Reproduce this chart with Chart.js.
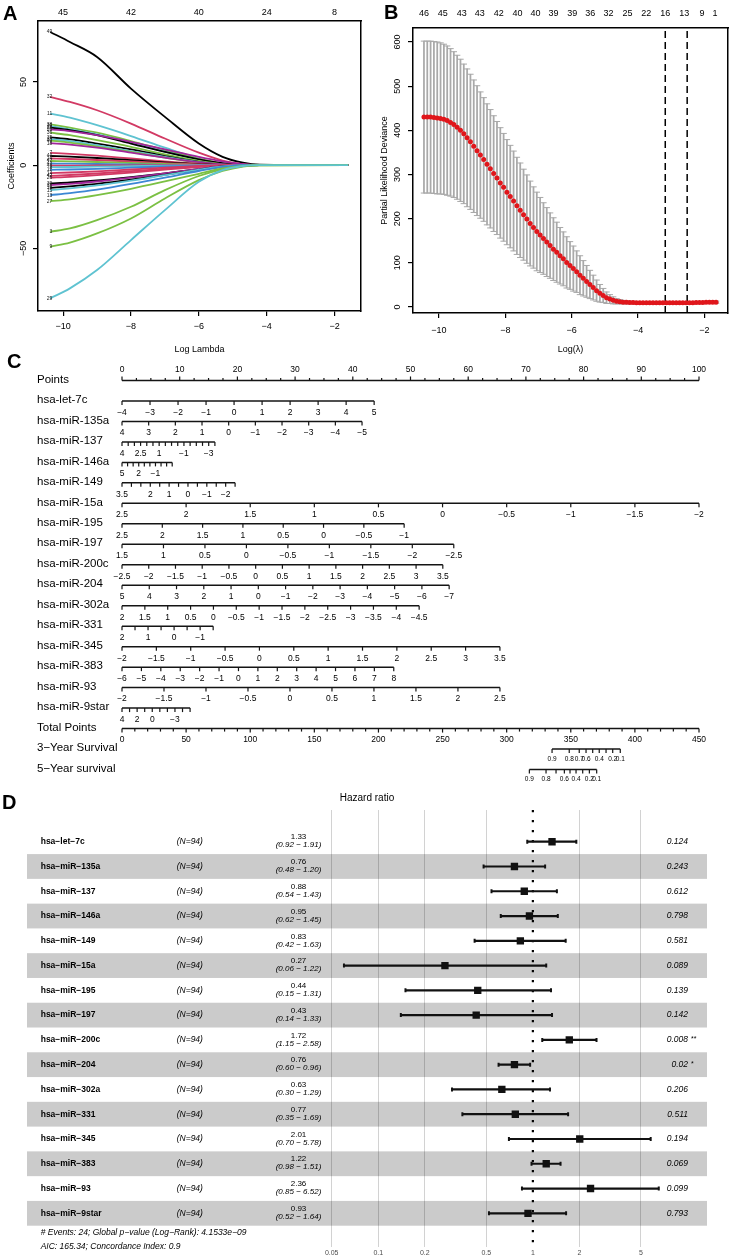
<!DOCTYPE html>
<html><head><meta charset="utf-8">
<script src="https://cdn.jsdelivr.net/npm/chart.js@4.4.1/dist/chart.umd.min.js"></script>
<style>
html,body{margin:0;padding:0;background:#fff;}
#wrap{position:relative;width:733px;height:1257px;overflow:hidden;font-family:"Liberation Sans",Arial,sans-serif;background:#fff;}
canvas{position:absolute;}
.lt{position:absolute;font-weight:bold;font-size:20px;line-height:20px;color:#000;}
</style></head><body>
<div id="wrap">
<canvas id="cA" width="366" height="360" style="left:0;top:0"></canvas>
<canvas id="cB" width="367" height="360" style="left:366px;top:0"></canvas>
<canvas id="cC" width="733" height="430" style="left:0;top:360px"></canvas>
<canvas id="cD" width="733" height="467" style="left:0;top:790px"></canvas>
<div class="lt" style="left:3px;top:3px">A</div>
<div class="lt" style="left:384px;top:2px">B</div>
<div class="lt" style="left:7px;top:351px">C</div>
<div class="lt" style="left:2px;top:792px">D</div>
</div>
<script>
// ---------------- DATA: panel A (lasso coefficient paths) ----------------
const lassoX = [-10.38, -9.8, -9.0, -8.0, -7.0, -6.0, -5.3, -4.7, -4.2, -1.6];
const lassoIds = ['49','32','11','38','39','28','20','36','35','33','40','18','7','44','24','47','43','41','2','12','14','42','26','30','31','16','15','13','27','3','9','29'];
const lassoCoef = [
  [80, 74, 65, 46, 29, 13, 5, 1.5, 0.3, 0],
  [41, 38, 33, 25, 16, 7.5, 2.8, 0.6, 0, 0],
  [31, 28.5, 24, 17.5, 10.5, 4, 1, 0.2, 0, 0],
  [24.5, 22.5, 19.5, 14.5, 9, 3.8, 1, 0.1, 0, 0],
  [23.5, 21.5, 18.5, 13.5, 8.2, 3.2, 0.8, 0, 0, 0],
  [22.5, 21, 18, 13, 8, 3.5, 1.2, 0.2, 0, 0],
  [21.5, 20.5, 18, 14, 9.5, 5, 2.3, 0.6, 0, 0],
  [19.5, 18, 15, 11, 6.5, 2.5, 0.5, 0, 0, 0],
  [16.7, 15.5, 13, 9.5, 5.5, 2, 0.4, 0, 0, 0],
  [15.6, 14.5, 12, 8.5, 5, 1.8, 0.3, 0, 0, 0],
  [14.8, 13.5, 11.2, 8, 4.5, 1.5, 0.2, 0, 0, 0],
  [13.2, 12.3, 10.5, 7.5, 4.5, 1.8, 0.4, 0, 0, 0],
  [7.4, 6.8, 5.7, 4, 2.3, 0.8, 0.1, 0, 0, 0],
  [5.5, 5.1, 4.3, 3, 1.7, 0.6, 0, 0, 0, 0],
  [4, 3.7, 3.1, 2.2, 1.2, 0.4, 0, 0, 0, 0],
  [2.5, 2.3, 1.9, 1.3, 0.7, 0.2, 0, 0, 0, 0],
  [1, 0.9, 0.7, 0.5, 0.2, 0, 0, 0, 0, 0],
  [-0.3, -0.3, -0.2, -0.1, 0, 0, 0, 0, 0, 0],
  [-1.2, -1.1, -0.9, -0.6, -0.3, -0.1, 0, 0, 0, 0],
  [-2.8, -2.6, -2.2, -1.5, -0.8, -0.3, 0, 0, 0, 0],
  [-4.8, -4.4, -3.7, -2.6, -1.5, -0.5, 0, 0, 0, 0],
  [-6.4, -5.9, -5, -3.6, -2.1, -0.8, -0.1, 0, 0, 0],
  [-7.5, -7, -6, -4.4, -2.7, -1.1, -0.2, 0, 0, 0],
  [-11, -10.4, -9.2, -7.2, -4.9, -2.4, -0.8, -0.1, 0, 0],
  [-12, -11.2, -9.8, -7.5, -4.9, -2.3, -0.7, 0, 0, 0],
  [-13.6, -12.7, -11.2, -8.7, -5.8, -2.8, -0.9, -0.1, 0, 0],
  [-15, -14, -12.2, -9.3, -6, -2.7, -0.8, 0, 0, 0],
  [-18, -16.8, -14.7, -11.3, -7.5, -3.5, -1.1, -0.1, 0, 0],
  [-21.6, -20.5, -18, -14.2, -9.8, -5.2, -2, -0.5, 0, 0],
  [-40, -38, -33, -25, -15, -6.5, -2.5, -0.6, -0.1, 0],
  [-49, -46.5, -41, -32, -20, -9, -3.5, -0.8, -0.1, 0],
  [-80, -74, -63, -45, -27, -10, -3, -0.5, 0, 0]
];
const lambdaTicksA = [-10, -8, -6, -4, -2];
const dfTopA = ['45', '42', '40', '24', '8'];
const coefTicksA = [-50, 0, 50];

// ---------------- DATA: panel B (cross-validation) ----------------
const cvX = [-10.45,-10.35,-10.25,-10.15,-10.05,-9.95,-9.85,-9.75,-9.65,-9.55,-9.45,-9.35,-9.25,-9.15,-9.05,-8.95,-8.85,-8.75,-8.65,-8.55,-8.45,-8.35,-8.25,-8.15,-8.05,-7.95,-7.85,-7.75,-7.65,-7.55,-7.45,-7.35,-7.25,-7.15,-7.05,-6.95,-6.85,-6.75,-6.65,-6.55,-6.45,-6.35,-6.25,-6.15,-6.05,-5.95,-5.85,-5.75,-5.65,-5.55,-5.45,-5.35,-5.25,-5.15,-5.05,-4.95,-4.85,-4.75,-4.65,-4.55,-4.45,-4.35,-4.25,-4.15,-4.05,-3.95,-3.85,-3.75,-3.65,-3.55,-3.45,-3.35,-3.25,-3.15,-3.05,-2.95,-2.85,-2.75,-2.65,-2.55,-2.45,-2.35,-2.25,-2.15,-2.05,-1.95,-1.85,-1.75,-1.65];
const cvMean = [430,430,430,429,428,427,425,422,418,413,
  407,400,392,383,374,364,354,344,334,323,
  313,302,292,281,271,260,250,240,229,219,
  209,199,189,180,171,163,155,147,139,131,
  124,116,109,101,94,87,80,72,65,58,
  51,44,37,31,26,21,18,15,13,12,
  11,10.5,10,10,9.5,9.5,9.5,9.5,9.5,9.5,
  9.5,9.5,9.5,9.5,9.5,9.5,9.5,9.5,9.5,9.5,
  9.5,9.5,10,10,10,10.5,10.5,11,11];
const cvSD = [172,172,172,172,172,171,170,169,167,165,
  163,161,158,156,153,150,147,143,140,137,
  134,131,128,125,122,119,116,113,110,107,
  103,100,96,92,89,85,81,78,74,71,
  68,64,61,58,54,51,47,44,40,36,
  32,28,24,20,16,13,10,8,6,5,
  4,3.5,3,3,2.5,2.5,2.5,2.5,2.5,2.5,
  2.5,2.5,2.5,2.5,2.5,2.5,2.5,2.5,2.5,2.5,
  2.5,2.5,2.5,2.5,2.5,2.5,2.5,2.5,2.5];
const cvTopAt = [-10.45,-9.88,-9.31,-8.77,-8.2,-7.63,-7.09,-6.55,-5.98,-5.44,-4.89,-4.32,-3.75,-3.18,-2.61,-2.07,-1.68];
const cvTopNz = ['46','45','43','43','42','40','40','39','39','36','32','25','22','16','13','9','1'];
const lambdaTicksB = [-10, -8, -6, -4, -2];
const devTicksB = [0, 100, 200, 300, 400, 500, 600];
const lambdaMin = -3.18;
const lambda1se = -2.52;

// ---------------- DATA: panel C (nomogram) ----------------
const pointsAxisTicks = [0,2.5,5,7.5,10,12.5,15,17.5,20,22.5,25,27.5,30,32.5,35,37.5,40,42.5,45,47.5,50,52.5,55,57.5,60,62.5,65,67.5,70,72.5,75,77.5,80,82.5,85,87.5,90,92.5,95,97.5,100];
const pointsAxisLabels = [0,10,20,30,40,50,60,70,80,90,100];
const nomoVars = ['hsa-let-7c','hsa-miR-135a','hsa-miR-137','hsa-miR-146a','hsa-miR-149','hsa-miR-15a','hsa-miR-195','hsa-miR-197','hsa-miR-200c','hsa-miR-204','hsa-miR-302a','hsa-miR-331','hsa-miR-345','hsa-miR-383','hsa-miR-93','hsa-miR-9star'];
const nomoTicks = [
  [-4,-3,-2,-1,0,1,2,3,4,5],
  [4,3,2,1,0,-1,-2,-3,-4,-5],
  [4,3.5,3,2.5,2,1.5,1,0.5,0,-0.5,-1,-1.5,-2,-2.5,-3,-3.5],
  [5,4,3,2,1,0,-1,-2,-3,-4],
  [3.5,3,2.5,2,1.5,1,0.5,0,-0.5,-1,-1.5,-2,-2.5],
  [2.5,2,1.5,1,0.5,0,-0.5,-1,-1.5,-2],
  [2.5,2,1.5,1,0.5,0,-0.5,-1],
  [1.5,1,0.5,0,-0.5,-1,-1.5,-2,-2.5],
  [-2.5,-2,-1.5,-1,-0.5,0,0.5,1,1.5,2,2.5,3,3.5],
  [5,4,3,2,1,0,-1,-2,-3,-4,-5,-6,-7],
  [2,1.5,1,0.5,0,-0.5,-1,-1.5,-2,-2.5,-3,-3.5,-4,-4.5],
  [2,1.5,1,0.5,0,-0.5,-1,-1.5],
  [-2,-1.5,-1,-0.5,0,0.5,1,1.5,2,2.5,3,3.5],
  [-6,-5,-4,-3,-2,-1,0,1,2,3,4,5,6,7,8],
  [-2,-1.5,-1,-0.5,0,0.5,1,1.5,2,2.5],
  [4,3,2,1,0,-1,-2,-3,-4,-5]
];
const nomoShown = [
  [-4,-3,-2,-1,0,1,2,3,4,5],
  [4,3,2,1,0,-1,-2,-3,-4,-5],
  [4,2.5,1,-1,-3],
  [5,2,-1],
  [3.5,2,1,0,-1,-2],
  [2.5,2,1.5,1,0.5,0,-0.5,-1,-1.5,-2],
  [2.5,2,1.5,1,0.5,0,-0.5,-1],
  [1.5,1,0.5,0,-0.5,-1,-1.5,-2,-2.5],
  [-2.5,-2,-1.5,-1,-0.5,0,0.5,1,1.5,2,2.5,3,3.5],
  [5,4,3,2,1,0,-1,-2,-3,-4,-5,-6,-7],
  [2,1.5,1,0.5,0,-0.5,-1,-1.5,-2,-2.5,-3,-3.5,-4,-4.5],
  [2,1,0,-1],
  [-2,-1.5,-1,-0.5,0,0.5,1,1.5,2,2.5,3,3.5],
  [-6,-5,-4,-3,-2,-1,0,1,2,3,4,5,6,7,8],
  [-2,-1.5,-1,-0.5,0,0.5,1,1.5,2,2.5],
  [4,2,0,-3]
];
const nomoMaxPoints = [43.7, 41.6, 16.1, 8.7, 19.6, 100, 48.9, 57.5, 55.6, 56.7, 51.5, 15.8, 65.5, 47.1, 65.5, 11.8];
const totalTicks = [0,10,20,30,40,50,60,70,80,90,100,110,120,130,140,150,160,170,180,190,200,210,220,230,240,250,260,270,280,290,300,310,320,330,340,350,360,370,380,390,400,410,420,430,440,450];
const totalLabels = [0,50,100,150,200,250,300,350,400,450];
const survProbs = [0.9,0.8,0.7,0.6,0.5,0.4,0.3,0.2,0.1];
const surv3Points = [335.4,348.8,356.6,361.9,367.1,372.2,377.5,382.7,388.6];
const surv3Shown = [0.9,0.8,0.7,0.6,0.4,0.2,0.1];
const surv5Points = [317.7,330.7,338.5,345.0,349.4,354.1,359.3,364.5,370.2];
const surv5Shown = [0.9,0.8,0.6,0.4,0.2,0.1];

// ---------------- DATA: panel D (forest plot) ----------------
const forestNames = ['hsa\u2212let\u22127c','hsa\u2212miR\u2212135a','hsa\u2212miR\u2212137','hsa\u2212miR\u2212146a','hsa\u2212miR\u2212149','hsa\u2212miR\u221215a','hsa\u2212miR\u2212195','hsa\u2212miR\u2212197','hsa\u2212miR\u2212200c','hsa\u2212miR\u2212204','hsa\u2212miR\u2212302a','hsa\u2212miR\u2212331','hsa\u2212miR\u2212345','hsa\u2212miR\u2212383','hsa\u2212miR\u221293','hsa\u2212miR\u22129star'];
const forestN = ['(N=94)','(N=94)','(N=94)','(N=94)','(N=94)','(N=94)','(N=94)','(N=94)','(N=94)','(N=94)','(N=94)','(N=94)','(N=94)','(N=94)','(N=94)','(N=94)'];
const forestHR = [1.33,0.76,0.88,0.95,0.83,0.27,0.44,0.43,1.72,0.76,0.63,0.77,2.01,1.22,2.36,0.93];
const forestLo = [0.92,0.48,0.54,0.62,0.42,0.06,0.15,0.14,1.15,0.60,0.30,0.35,0.70,0.98,0.85,0.52];
const forestHi = [1.91,1.20,1.43,1.45,1.63,1.22,1.31,1.33,2.58,0.96,1.29,1.69,5.78,1.51,6.52,1.64];
const forestP = ['0.124','0.243','0.612','0.798','0.581','0.089','0.139','0.142','0.008','0.02','0.206','0.511','0.194','0.069','0.099','0.793'];
const forestStars = ['','','','','','','','','**','*','','','','','',''];
const forestTicks = [0.05,0.1,0.2,0.5,1,2,5];
const forestFooter = ['# Events: 24; Global p\u2212value (Log\u2212Rank): 4.1533e\u221209', 'AIC: 165.34; Concordance Index: 0.9'];

// ---------------- STYLE ----------------
const FONT = '"Liberation Sans", Arial, Helvetica, sans-serif';
Chart.defaults.font.family = FONT;
Chart.defaults.color = '#000';
Chart.defaults.animation = false;
Chart.defaults.events = [];
Chart.defaults.plugins.legend.display = false;
Chart.defaults.plugins.tooltip.enabled = false;

const K='#000000', R='#D23A64', G='#7BC043', B='#3C87D4', C='#5FC3D1', P='#A1279A';
const lassoColors = [K,R,C,G,C,K,P,G,K,C,G,P,R,K,R,G,B,R,C,B,R,R,R,K,P,K,C,B,G,G,G,C];

function mfmt(v){ return (v < 0 ? '\u2212' : '') + String(Math.abs(v)); }
function setTicks(vals){ return s => { s.ticks = vals.map(v => ({value: v})); }; }

function rotYLabels(xPos, vals){
  return { id: 'rotY', afterDraw(chart){
    const c = chart.ctx, s = chart.scales.y;
    c.save(); c.font = '9px ' + FONT; c.fillStyle = '#000'; c.textAlign = 'center'; c.textBaseline = 'middle';
    vals.forEach(v => { c.save(); c.translate(xPos, s.getPixelForValue(v)); c.rotate(-Math.PI/2); c.fillText(mfmt(v), 0, 0); c.restore(); });
    c.restore();
  }};
}

// ---------------- PANEL A ----------------
new Chart(document.getElementById('cA'), {
  type: 'scatter',
  data: { datasets: lassoCoef.map((c, k) => ({
    data: c.map((v, j) => ({x: lassoX[j], y: v})),
    showLine: true, borderColor: lassoColors[k], borderWidth: 1.8, pointRadius: 0,
    cubicInterpolationMode: 'monotone', order: lassoCoef.length - k
  }))},
  options: {
    responsive: false, devicePixelRatio: 1, layout: {padding: 0},
    scales: {
      x: {type: 'linear', position: 'bottom', min: -10.74, max: -1.22,
        afterBuildTicks: setTicks(lambdaTicksA), afterFit: s => { s.height = 49; },
        grid: {drawOnChartArea: false, tickLength: 5, color: '#000', lineWidth: 1.2},
        border: {color: '#000', width: 1.5},
        ticks: {font: {size: 9}, padding: 5.6, maxRotation: 0, autoSkip: false, callback: v => mfmt(v)},
        title: {display: true, text: 'Log Lambda', font: {size: 9}, padding: {top: 0, bottom: 4.6}}},
      xt: {type: 'linear', position: 'top', min: -10.74, max: -1.22,
        afterBuildTicks: setTicks(lambdaTicksA), afterFit: s => { s.height = 21; },
        grid: {display: false, drawTicks: false, tickLength: 0}, border: {color: '#000', width: 1.5},
        ticks: {font: {size: 9}, padding: 2.6, maxRotation: 0, autoSkip: false, callback: (v, i) => dfTopA[i]}},
      y: {type: 'linear', position: 'left', min: -87.6, max: 86.6,
        afterBuildTicks: setTicks(coefTicksA), afterFit: s => { s.width = 38; },
        grid: {drawOnChartArea: false, tickLength: 5, color: '#000', lineWidth: 1.2},
        border: {color: '#000', width: 1.5}, ticks: {display: false},
        title: {display: true, text: 'Coefficients', font: {size: 9}, padding: {top: 6, bottom: 0}}},
      yr: {type: 'linear', position: 'right', min: -87.6, max: 86.6, afterFit: s => { s.width = 5; },
        grid: {display: false}, border: {color: '#000', width: 1.5}, ticks: {display: false}}
    }
  },
  plugins: [rotYLabels(24, coefTicksA), {
    id: 'pathIds', afterDatasetsDraw(chart){
      const c = chart.ctx, sx = chart.scales.x, sy = chart.scales.y;
      c.save(); c.font = '5px ' + FONT; c.fillStyle = '#222'; c.textAlign = 'right'; c.textBaseline = 'middle';
      lassoCoef.forEach((p, k) => c.fillText(lassoIds[k], sx.getPixelForValue(lassoX[0]) + 2, sy.getPixelForValue(p[0])));
      c.restore();
    }}]
});

// ---------------- PANEL B ----------------
const GREY = '#A9A9A9';
new Chart(document.getElementById('cB'), {
  type: 'scatter',
  data: { datasets: [
    {type: 'scatter', data: cvX.map((x, i) => ({x: x, y: cvMean[i]})), pointRadius: 2.5, pointBackgroundColor: '#E0161B', pointBorderWidth: 0, order: 0},
    {type: 'line', data: [{x: lambdaMin, y: -13.6}, {x: lambdaMin, y: 631.7}], borderColor: '#000', borderWidth: 1.5, borderDash: [7, 4], pointRadius: 0, order: 0},
    {type: 'line', data: [{x: lambda1se, y: -13.6}, {x: lambda1se, y: 631.7}], borderColor: '#000', borderWidth: 1.5, borderDash: [7, 4], pointRadius: 0, order: 0},
    {type: 'scatter', data: cvX.map((x, i) => ({x: x, y: cvMean[i] + cvSD[i]})), pointStyle: 'line', pointRadius: 3.2, pointBorderColor: GREY, pointBorderWidth: 1, order: 1},
    {type: 'scatter', data: cvX.map((x, i) => ({x: x, y: cvMean[i] - cvSD[i]})), pointStyle: 'line', pointRadius: 3.2, pointBorderColor: GREY, pointBorderWidth: 1, order: 1},
    {type: 'bar', data: cvX.map((x, i) => ({x: x, y: [cvMean[i] - cvSD[i], cvMean[i] + cvSD[i]]})), backgroundColor: GREY, borderWidth: 0, barThickness: 1.1, order: 2}
  ]},
  options: {
    responsive: false, devicePixelRatio: 1, layout: {padding: 0},
    scales: {
      x: {type: 'linear', position: 'bottom', min: -10.78, max: -1.29, offset: false,
        afterBuildTicks: setTicks(lambdaTicksB), afterFit: s => { s.height = 47; },
        grid: {drawOnChartArea: false, tickLength: 5, color: '#000', lineWidth: 1.2, offset: false},
        border: {color: '#000', width: 1.5},
        ticks: {font: {size: 9}, padding: 7.3, maxRotation: 0, autoSkip: false, callback: v => mfmt(v)},
        title: {display: true, text: 'Log(\u03bb)', font: {size: 9}, padding: {top: 0, bottom: 4.6}}},
      xt: {type: 'linear', position: 'top', min: -10.78, max: -1.29,
        afterBuildTicks: setTicks(cvTopAt), afterFit: s => { s.height = 28; },
        grid: {display: false, drawTicks: false, tickLength: 0}, border: {color: '#000', width: 1.5},
        ticks: {font: {size: 9}, padding: 8.6, maxRotation: 0, autoSkip: false, callback: (v, i) => cvTopNz[i]}},
      y: {type: 'linear', position: 'left', min: -13.6, max: 631.7,
        afterBuildTicks: setTicks(devTicksB), afterFit: s => { s.width = 47; },
        grid: {drawOnChartArea: false, tickLength: 5, color: '#000', lineWidth: 1.2},
        border: {color: '#000', width: 1.5}, ticks: {display: false},
        title: {display: true, text: 'Partial Likelihood Deviance', font: {size: 9}, padding: {top: 13, bottom: 0}}},
      yr: {type: 'linear', position: 'right', min: -13.6, max: 631.7, afterFit: s => { s.width = 4; },
        grid: {display: false}, border: {color: '#000', width: 1.5}, ticks: {display: false}}
    }
  },
  plugins: [rotYLabels(32, devTicksB)]
});

// ---------------- PANEL C (nomogram) ----------------
const AXC = '#141414';
const nomoDatasets = [];
function rowLine(x0, x1, row, axis){ nomoDatasets.push({type: 'line', data: [{x: x0, y: row}, {x: x1, y: row}], xAxisID: axis, borderColor: AXC, borderWidth: 1.5, pointRadius: 0}); }
rowLine(0, 100, 0, 'x');
nomoVars.forEach((n, k) => rowLine(0, nomoMaxPoints[k], k + 1, 'x'));
rowLine(0, 450, 17, 'xT');
rowLine(surv3Points[0], surv3Points[8], 18, 'xT');
rowLine(surv5Points[0], surv5Points[8], 19, 'xT');
const rowNames = ['Points'].concat(nomoVars, ['Total Points', '3\u2212Year Survival', '5\u2212Year survival']);

new Chart(document.getElementById('cC'), {
  type: 'scatter',
  data: {datasets: nomoDatasets},
  options: {
    responsive: false, devicePixelRatio: 1,
    layout: {padding: {left: 122, right: 34, top: 0, bottom: 0}},
    scales: {
      x: {type: 'linear', display: false, min: 0, max: 100},
      xT: {type: 'linear', display: false, min: 0, max: 450},
      y: {type: 'linear', display: false, min: -1, max: 20, reverse: true}
    }
  },
  plugins: [{
    id: 'nomo', afterDatasetsDraw(chart){
      const c = chart.ctx, sx = chart.scales.x, sT = chart.scales.xT, sy = chart.scales.y;
      c.save();
      c.fillStyle = '#000'; c.strokeStyle = AXC; c.lineWidth = 1.2;
      c.font = '11.5px ' + FONT; c.textAlign = 'left'; c.textBaseline = 'middle';
      rowNames.forEach((n, r) => c.fillText(n, 37, sy.getPixelForValue(r) - 1));
      function tick(x, y, len){ c.beginPath(); c.moveTo(x, y); c.lineTo(x, y + len); c.stroke(); }
      let y0 = sy.getPixelForValue(0);
      pointsAxisTicks.forEach(v => { const maj = pointsAxisLabels.indexOf(v) >= 0; tick(sx.getPixelForValue(v), y0, maj ? -4 : -2.5); });
      c.font = '8.5px ' + FONT; c.textAlign = 'center';
      pointsAxisLabels.forEach(v => c.fillText(String(v), sx.getPixelForValue(v), y0 - 10.5));
      nomoVars.forEach((n, k) => {
        const t = nomoTicks[k], t0 = t[0], tN = t[t.length - 1], mp = nomoMaxPoints[k];
        const px = v => sx.getPixelForValue((v - t0) / (tN - t0) * mp);
        const yy = sy.getPixelForValue(k + 1);
        t.forEach(v => tick(px(v), yy, 4));
        nomoShown[k].forEach(v => c.fillText(mfmt(v), px(v), yy + 11.5));
      });
      const yT = sy.getPixelForValue(17);
      totalTicks.forEach(v => tick(sT.getPixelForValue(v), yT, totalLabels.indexOf(v) >= 0 ? 4 : 3));
      totalLabels.forEach(v => c.fillText(String(v), sT.getPixelForValue(v), yT + 11.5));
      c.font = '6.5px ' + FONT;
      [[18, surv3Points, surv3Shown], [19, surv5Points, surv5Shown]].forEach(([row, pts, shown]) => {
        const yy = sy.getPixelForValue(row);
        pts.forEach(p => tick(sT.getPixelForValue(p), yy, 4));
        shown.forEach(v => { const i = survProbs.indexOf(v); c.fillText(String(v), sT.getPixelForValue(pts[i]), yy + 10); });
      });
      c.restore();
    }
  }]
});

// ---------------- PANEL D (forest plot) ----------------
const forestDatasets = [
  {type: 'scatter', data: forestHR.map((v, i) => ({x: v, y: i})), pointStyle: 'rect', pointRadius: 5.2, pointBackgroundColor: '#111', pointBorderColor: '#111', pointBorderWidth: 0, order: 0},
  {type: 'line', data: [{x: 1, y: -1.28}, {x: 1, y: 16.36}], borderColor: '#000', borderWidth: 2.2, borderDash: [2.2, 7.8], pointRadius: 0, order: 2}
];
forestHR.forEach((v, i) => forestDatasets.push({type: 'line', data: [{x: forestLo[i], y: i}, {x: forestHi[i], y: i}],
  borderColor: '#111', borderWidth: 2.2, pointStyle: 'line', pointRotation: 90, pointRadius: 2, pointBorderWidth: 2, pointBorderColor: '#111', order: 1}));

new Chart(document.getElementById('cD'), {
  type: 'scatter',
  data: {datasets: forestDatasets},
  options: {
    responsive: false, devicePixelRatio: 1,
    layout: {padding: {left: 331.7, right: 26, top: 20, bottom: 0}},
    scales: {
      x: {type: 'logarithmic', position: 'bottom', min: 0.05, max: 13.37,
        afterBuildTicks: setTicks(forestTicks), afterFit: s => { s.height = 10; },
        grid: {drawTicks: false, lineWidth: 0.9, color: ctx => (ctx.tick && ctx.tick.value === 1) ? 'rgba(0,0,0,0)' : 'rgba(0,0,0,0.2)'},
        border: {display: false},
        ticks: {font: {size: 7}, color: '#4D4D4D', padding: 2, maxRotation: 0, autoSkip: false, callback: v => String(v)}},
      y: {type: 'linear', display: false, min: -1.28, max: 16.36, reverse: true}
    }
  },
  plugins: [{
    id: 'forestBands', beforeDraw(chart){
      const c = chart.ctx, sy = chart.scales.y;
      c.save(); c.fillStyle = '#CBCBCB';
      forestHR.forEach((v, i) => { if (i % 2 === 1) { const a = sy.getPixelForValue(i - 0.5), b = sy.getPixelForValue(i + 0.5); c.fillRect(27, a, 680, b - a); } });
      c.restore();
    },
    afterDraw(chart){
      const c = chart.ctx, sy = chart.scales.y;
      c.save(); c.fillStyle = '#000'; c.textBaseline = 'middle';
      c.font = '10px ' + FONT; c.textAlign = 'center';
      c.fillText('Hazard ratio', 367, 8.3);
      forestNames.forEach((n, i) => {
        const y = sy.getPixelForValue(i);
        c.textAlign = 'left';
        c.font = 'bold 8.5px ' + FONT; c.fillText(n, 40.7, y);
        c.font = 'italic 8.5px ' + FONT; c.fillText(forestN[i], 176.7, y);
        c.textAlign = 'center';
        c.font = '8px ' + FONT; c.fillText(forestHR[i].toFixed(2), 298.5, y - 4.5);
        c.font = 'italic 8px ' + FONT; c.fillText('(' + forestLo[i].toFixed(2) + ' \u2212 ' + forestHi[i].toFixed(2) + ')', 298.5, y + 3.5);
        c.textAlign = 'right'; c.font = 'italic 8.5px ' + FONT; c.fillText(forestP[i], 688, y);
        if (forestStars[i]) { c.textAlign = 'left'; c.font = '7px ' + FONT; c.fillText(forestStars[i], 691, y - 1); }
      });
      c.textAlign = 'left'; c.font = 'italic 8.5px ' + FONT;
      c.fillText(forestFooter[0], 40.7, 443);
      c.fillText(forestFooter[1], 40.7, 457);
      c.restore();
    }
  }]
});
</script>
</body></html>
